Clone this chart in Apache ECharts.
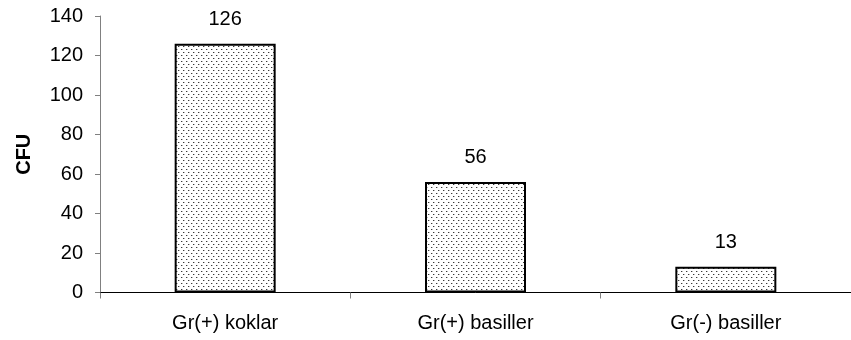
<!DOCTYPE html>
<html>
<head>
<meta charset="utf-8">
<script src="https://cdn.jsdelivr.net/npm/echarts@6/dist/echarts.min.js"></script>
<style>
html,body{margin:0;padding:0;background:#fff;}
#chart{width:851px;height:340px;}
</style>
</head>
<body>
<div id="chart"></div>
<script>
var categories = ['Gr(+) koklar', 'Gr(+) basiller', 'Gr(-) basiller'];
var cfuValues = [126, 56, 13];
var yAxisName = 'CFU';

function makePattern() {
  var c = document.createElement('canvas');
  c.width = 5; c.height = 6;
  var ctx = c.getContext('2d');
  ctx.fillStyle = '#ffffff';
  ctx.fillRect(0, 0, 5, 6);
  ctx.fillStyle = '#3a3a3a';
  ctx.fillRect(1, 1, 1, 1);
  ctx.fillRect(3, 4, 1, 1);
  ctx.fillStyle = '#bdbdbd';
  ctx.fillRect(2, 1, 1, 1);
  ctx.fillRect(4, 4, 1, 1);
  return c;
}

var chart = echarts.init(document.getElementById('chart'), null, {renderer: 'canvas'});
var font = 'Liberation Sans, Arial, sans-serif';
chart.setOption({
  backgroundColor: '#ffffff',
  animation: false,
  textStyle: {fontFamily: font},
  grid: {left: 100, top: 16, width: 757, height: 276.5, containLabel: false},
  xAxis: {
    type: 'category',
    data: categories,
    boundaryGap: true,
    axisLine: {lineStyle: {color: '#000000', width: 1}},
    axisTick: {show: true, length: 6, lineStyle: {color: '#808080', width: 1}},
    axisLabel: {color: '#000000', fontSize: 20, fontFamily: font, margin: 21}
  },
  yAxis: {
    type: 'value',
    min: 0, max: 140, interval: 20,
    name: yAxisName,
    nameLocation: 'middle',
    nameRotate: 90,
    nameGap: 66,
    nameTextStyle: {color: '#000000', fontSize: 20, fontWeight: 'bold', fontFamily: font},
    axisLine: {show: true, lineStyle: {color: '#808080', width: 1}},
    axisTick: {show: true, length: 5, lineStyle: {color: '#808080', width: 1}},
    axisLabel: {color: '#000000', fontSize: 20, fontFamily: font, margin: 17},
    splitLine: {show: false}
  },
  series: [{
    type: 'bar',
    data: cfuValues,
    barWidth: 101,
    itemStyle: {
      color: {image: makePattern(), repeat: 'repeat'},
      borderColor: '#000000',
      borderWidth: 2
    },
    label: {
      show: true,
      position: 'top',
      distance: 14,
      color: '#000000',
      fontSize: 20,
      fontFamily: font
    }
  }]
});
</script>
</body>
</html>
